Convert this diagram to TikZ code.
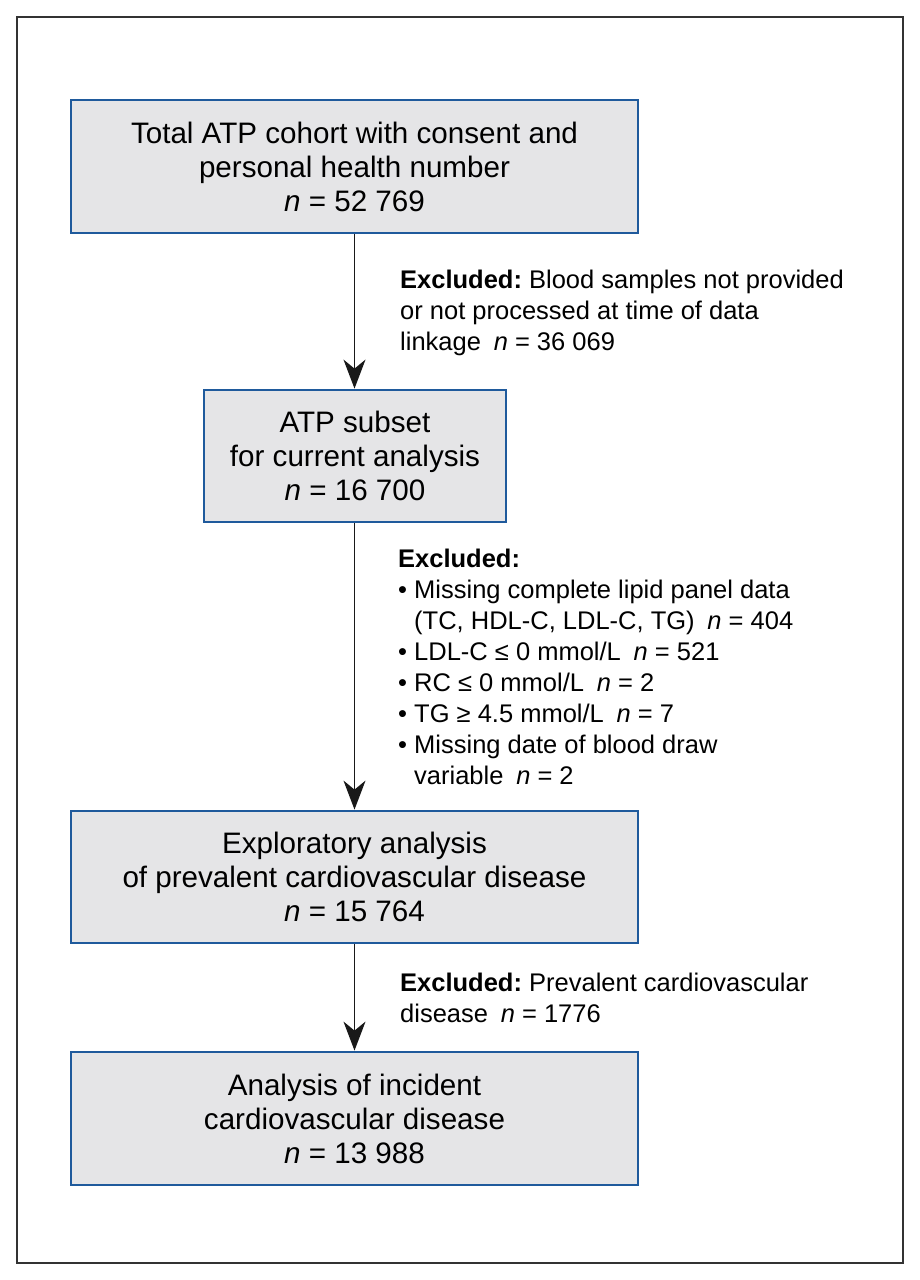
\documentclass[tikz,border=0pt]{standalone}
\usepackage{fontspec}
\setmainfont{Liberation Sans}
\usetikzlibrary{arrows.meta}
\definecolor{boxblue}{HTML}{1F5A9C}
\definecolor{boxgray}{HTML}{E5E5E7}
\definecolor{framegray}{HTML}{333333}
\frenchspacing
\begin{document}
\begin{tikzpicture}[x=1pt,y=-1pt,
  flowbox/.style={draw=boxblue, line width=2.8pt, fill=boxgray, align=center,
    font=\fontsize{29.6}{34}\selectfont, inner sep=0pt},
  sidenote/.style={align=left, anchor=west, inner sep=0pt,
    font=\fontsize{25.5}{31}\selectfont},
  flowarrow/.style={line width=1.7pt, draw=black!90,
    -{Stealth[length=29pt,width=22pt,inset=9pt]}}]
\useasboundingbox (0,0) rectangle (920,1280);
\draw[line width=2pt, draw=framegray] (17,17) rectangle (903,1263);

\node[flowbox, minimum width=567pt, minimum height=133pt] (b1) at (354.5,166.5)
  {Total ATP cohort with consent and\\personal health number\\\textit{n} = 52~769};
\node[flowbox, minimum width=302pt, minimum height=132pt] (b2) at (355,456)
  {ATP subset\\for current analysis\\\textit{n} = 16~700};
\node[flowbox, minimum width=567pt, minimum height=132pt] (b3) at (354.5,877)
  {Exploratory analysis\\of prevalent cardiovascular disease\\\textit{n} = 15~764};
\node[flowbox, minimum width=567pt, minimum height=133pt] (b4) at (354.5,1118.5)
  {Analysis of incident\\cardiovascular disease\\\textit{n} = 13~988};

\draw[flowarrow] (b1.south) -- (b1.south |- b2.north);
\draw[flowarrow] (b2.south -| b1.south) -- (b1.south |- b3.north);
\draw[flowarrow] (b3.south) -- (b3.south |- b4.north);

\node[sidenote] (e1) at (400,312.5)
  {\textbf{Excluded:} Blood samples not provided\\or not processed at time of data\\linkage\hspace{0.5em}\textit{n} = 36~069};
\node[sidenote] (e2) at (398,666.5)
  {\textbf{Excluded:}\\
   •\ Missing complete lipid panel data\\
   \phantom{•\ }(TC, HDL-C, LDL-C, TG)\hspace{0.5em}\textit{n} = 404\\
   •\ LDL-C ≤ 0 mmol/L\hspace{0.5em}\textit{n} = 521\\
   •\ RC ≤ 0 mmol/L\hspace{0.5em}\textit{n} = 2\\
   •\ TG ≥ 4.5 mmol/L\hspace{0.5em}\textit{n} = 7\\
   •\ Missing date of blood draw\\
   \phantom{•\ }variable\hspace{0.5em}\textit{n} = 2};
\node[sidenote] (e3) at (400,998)
  {\textbf{Excluded:} Prevalent cardiovascular\\disease\hspace{0.5em}\textit{n} = 1776};
\end{tikzpicture}
\end{document}
